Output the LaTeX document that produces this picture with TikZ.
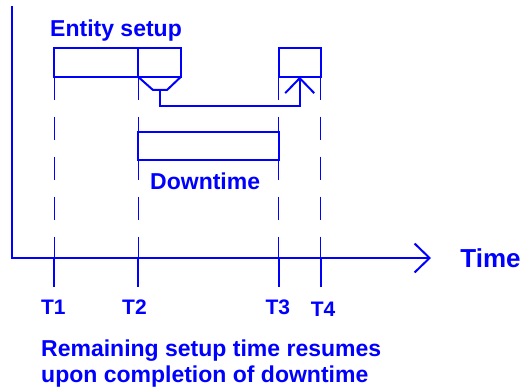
\documentclass[tikz,border=0pt]{standalone}
\usepackage{fontspec}
\setmainfont{Liberation Sans}
\usetikzlibrary{arrows.meta}
\begin{document}
\begin{tikzpicture}[x=1pt,y=-1pt,
  ink/.style={draw=blue, line width=2pt},
  bar/.style={ink, rectangle, inner sep=0pt, outer sep=0pt},
  guide/.style={draw=blue, line width=1pt, dash pattern=on 23.3pt off 16.7pt},
  tick/.style={draw=blue, line width=2pt},
  lbl/.style={text=blue, inner sep=0pt, font=\bfseries\fontsize{23}{26}\selectfont},
  tlbl/.style={text=blue, inner sep=0pt, font=\bfseries\fontsize{21}{24}\selectfont, anchor=base},
  chev/.style={-{Straight Barb[length=15pt,width=29pt,line width=2pt]}}
]
\useasboundingbox (0,0) rectangle (526,390);
% axes
\coordinate (ytop) at (12,6);
\coordinate (O) at (12,258);
\coordinate (xend) at (431,258);
\draw[ink, chev] (ytop) -- (O) -- (xend);
\node[lbl, font=\bfseries\fontsize{26}{30}\selectfont] (time) at (490.5,258) {Time};
% setup bars
\node[bar, minimum width=84pt, minimum height=28.4pt] (s1) at (96,62.5) {};
\node[bar, minimum width=43pt, minimum height=28.4pt] (s2) at (159.5,62.5) {};
\node[bar, minimum width=42pt, minimum height=28.4pt] (s3) at (299.7,62.5) {};
\node[lbl, anchor=base west] (ent) at (50,36.7) {Entity setup};
% funnel
\coordinate (fl) at (153,90);
\coordinate (fr) at (167,90);
\coordinate (fb) at (160,90);
\draw[ink, line join=miter] (s2.south west) -- (fl) -- (fr) -- (s2.south east);
\draw[ink, chev, line join=miter] (fb) -- ++(0,16) -| (s3.south);
% downtime
\node[bar, minimum width=141pt, minimum height=28.3pt] (dt) at (208.2,145.8) {};
\node[lbl, anchor=base west] (dtl) at (150,189.3) {Downtime};
% guides and ticks
\coordinate (a1) at (54,258);
\coordinate (a2) at (138,258);
\coordinate (a3) at (278.7,258);
\coordinate (a4) at (320.7,258);
\coordinate (b1) at (54,287);
\coordinate (b2) at (138,287);
\coordinate (b3) at (278.7,287);
\coordinate (b4) at (320.7,287);
\draw[guide] (s1.south west) -- (a1);
\draw[guide] (s1.south east) -- (a2);
\draw[guide] (s3.south west) -- (a3);
\draw[guide] (s3.south east) -- (a4);
\draw[tick] (a1) -- (b1);
\draw[tick] (a2) -- (b2);
\draw[tick] (a3) -- (b3);
\draw[tick] (a4) -- (b4);
\node[tlbl] (T1) at (53.3,314) {T1};
\node[tlbl] (T2) at (134.5,314) {T2};
\node[tlbl] (T3) at (277.8,314) {T3};
\node[tlbl] (T4) at (323,316) {T4};
% caption
\node[lbl, anchor=base west] (cap1) at (41,356.7) {Remaining setup time resumes};
\node[lbl, anchor=base west] (cap2) at (41,382.7) {upon completion of downtime};
\end{tikzpicture}
\end{document}
